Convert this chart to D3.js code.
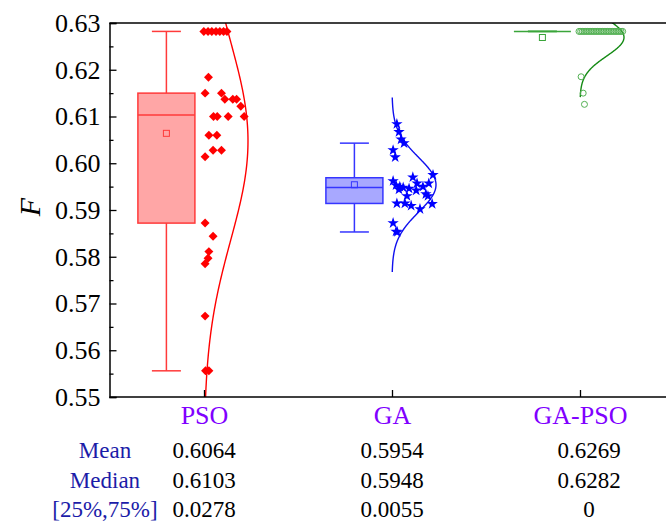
<!DOCTYPE html>
<html>
<head>
<meta charset="utf-8">
<script src="https://cdn.jsdelivr.net/npm/d3@7"></script>
<style>
  html, body { margin: 0; padding: 0; background: #fff; }
  svg { display: block; }
  text { font-family: "Liberation Serif", "DejaVu Serif", serif; }
</style>
</head>
<body>
<svg id="chart" width="666" height="522"></svg>
<script>
// Groups
const categories = ["PSO", "GA", "GA-PSO"];

// Objective value F of each run, with its horizontal jitter (0..1 of the scatter band)
const psoValues = [0.6282, 0.6282, 0.6282, 0.6282, 0.6282, 0.6282, 0.6282,
  0.6184, 0.6150, 0.6150, 0.6137, 0.6137, 0.6137, 0.6122,
  0.6100, 0.6100, 0.6100, 0.6100, 0.6060, 0.6060, 0.6028, 0.6028, 0.6014,
  0.5872, 0.5844, 0.5811, 0.5797, 0.5785, 0.5673, 0.5556, 0.5556];
const psoJitter = [0.02, 0.12, 0.21, 0.31, 0.40, 0.49, 0.57,
  0.13, 0.05, 0.44, 0.52, 0.71, 0.80, 0.90,
  0.25, 0.34, 0.60, 0.98, 0.14, 0.33, 0.24, 0.44, 0.05,
  0.05, 0.24, 0.14, 0.12, 0.05, 0.05, 0.06, 0.14];

const gaValues = [0.6084, 0.6067, 0.6051, 0.6043, 0.6028, 0.6013,
  0.5975, 0.5970, 0.5962, 0.5957, 0.5957, 0.5953, 0.5950, 0.5948, 0.5946,
  0.5950, 0.5942, 0.5944, 0.5934, 0.5930, 0.5930,
  0.5914, 0.5914, 0.5909, 0.5902, 0.5913, 0.5872, 0.5854, 0.5853];
const gaJitter = [0.14, 0.19, 0.24, 0.31, 0.05, 0.10,
  1.00, 0.52, 0.05, 0.62, 0.90, 0.12, 0.21, 0.29, 0.43,
  0.76, 0.60, 0.19, 0.83, 0.88, 0.38,
  0.14, 0.33, 0.48, 0.69, 0.98, 0.05, 0.12, 0.15];

const gapsoValues = [0.6282, 0.6282, 0.6282, 0.6282, 0.6282, 0.6282, 0.6282, 0.6282, 0.6282,
  0.6282, 0.6282, 0.6282, 0.6282, 0.6282, 0.6282, 0.6282, 0.6282, 0.6282,
  0.6282, 0.6282, 0.6282, 0.6282, 0.6282, 0.6282, 0.6282, 0.6282, 0.6282,
  0.6185, 0.6150, 0.6126];
const gapsoJitter = [0.00, 0.04, 0.08, 0.12, 0.16, 0.20, 0.24, 0.28, 0.32,
  0.36, 0.40, 0.44, 0.48, 0.52, 0.56, 0.60, 0.64, 0.68,
  0.72, 0.76, 0.80, 0.84, 0.88, 0.92, 0.96, 1.00, 1.04,
  0.05, 0.10, 0.13];

// Box statistics per group
const whiskerHigh = [0.6282, 0.6043, 0.6282];
const quartile3 = [0.6150, 0.5969, 0.6282];
const medians = [0.6103, 0.5948, 0.6282];
const quartile1 = [0.5872, 0.5914, 0.6282];
const whiskerLow = [0.5556, 0.5853, 0.6282];
const means = [0.6064, 0.5954, 0.6269];

// Axis ticks
const yMajorTicks = [0.55, 0.56, 0.57, 0.58, 0.59, 0.60, 0.61, 0.62, 0.63];
const yMinorTicks = [0.555, 0.565, 0.575, 0.585, 0.595, 0.605, 0.615, 0.625];

const groups = [
  { values: psoValues, jitter: psoJitter },
  { values: gaValues, jitter: gaJitter },
  { values: gapsoValues, jitter: gapsoJitter }
];

const colors = [
  { line: "#ff0000", box: "#ff3a3a", fill: "#ffa6a6", mark: "#ff0000" },
  { line: "#1010ee", box: "#3535ff", fill: "#a8a8ff", mark: "#0000ff" },
  { line: "#148a14", box: "#3aa53a", fill: "#a8d8a8", mark: "#52b052" }
];

const svg = d3.select("#chart");
const plot = { left: 110, top: 23, bottom: 397 };

const x = d3.scaleLinear().domain([0.5, 3.5]).range([110, 674]);
const y = d3.scaleLinear().domain([0.55, 0.63]).range([plot.bottom, plot.top]);

const boxOffset = -0.2;      // box centre relative to the category tick
const boxWidth = 57;
const capWidth = 29;
const bandStart = -1;        // scatter band start (px from tick)
const bandWidth = 42;        // scatter band width (px)
const curvePeak = 44;        // width of the distribution curve at its peak

svg.append("defs").append("clipPath").attr("id", "plotClip")
  .append("rect")
  .attr("x", plot.left).attr("y", plot.top)
  .attr("width", 666 - plot.left).attr("height", plot.bottom - plot.top);

const layer = svg.append("g").attr("clip-path", "url(#plotClip)");

groups.forEach((g, i) => {
  const c = colors[i];
  const cx = x(i + 1 + boxOffset);
  const gLayer = layer.append("g");

  // whiskers
  gLayer.append("line")
    .attr("x1", cx).attr("x2", cx)
    .attr("y1", y(whiskerHigh[i])).attr("y2", y(quartile3[i]))
    .attr("stroke", c.box).attr("stroke-width", 1.5);
  gLayer.append("line")
    .attr("x1", cx).attr("x2", cx)
    .attr("y1", y(quartile1[i])).attr("y2", y(whiskerLow[i]))
    .attr("stroke", c.box).attr("stroke-width", 1.5);
  [whiskerHigh[i], whiskerLow[i]].forEach(v => {
    gLayer.append("line")
      .attr("x1", cx - capWidth / 2).attr("x2", cx + capWidth / 2)
      .attr("y1", y(v)).attr("y2", y(v))
      .attr("stroke", c.box).attr("stroke-width", 1.5);
  });

  // box
  const boxH = y(quartile1[i]) - y(quartile3[i]);
  if (boxH > 0.5) {
    gLayer.append("rect")
      .attr("x", cx - boxWidth / 2).attr("y", y(quartile3[i]))
      .attr("width", boxWidth).attr("height", boxH)
      .attr("fill", c.fill).attr("stroke", c.box).attr("stroke-width", 1.5);
  }
  gLayer.append("line")
    .attr("x1", cx - boxWidth / 2).attr("x2", cx + boxWidth / 2)
    .attr("y1", y(medians[i])).attr("y2", y(medians[i]))
    .attr("stroke", c.box).attr("stroke-width", 1.5);

  // mean marker
  gLayer.append("rect")
    .attr("x", cx - 3).attr("y", y(means[i]) - 3)
    .attr("width", 6).attr("height", 6)
    .attr("fill", "none").attr("stroke", c.box).attr("stroke-width", 1);

  // normal distribution curve from the sample
  const m = d3.mean(g.values);
  const s = d3.deviation(g.values);
  const span = 3.2 * s;
  const samples = d3.range(0, 201).map(k => m - span + (2 * span) * k / 200);
  const base = x(i + 1);
  const line = d3.line()
    .x(v => base + curvePeak * Math.exp(-0.5 * Math.pow((v - m) / s, 2)))
    .y(v => y(v))
    .curve(d3.curveBasis);
  gLayer.append("path")
    .attr("d", line(samples))
    .attr("fill", "none").attr("stroke", c.line).attr("stroke-width", 1.4);

  // data points
  const px = k => base + bandStart + g.jitter[k] * bandWidth;
  const pts = gLayer.append("g");
  if (i === 0) {
    pts.selectAll("path").data(g.values).join("path")
      .attr("d", d3.symbol(d3.symbolSquare, 40)())
      .attr("transform", (v, k) => `translate(${px(k)},${y(v)}) rotate(45)`)
      .attr("fill", c.mark);
  } else if (i === 1) {
    pts.selectAll("path").data(g.values).join("path")
      .attr("d", d3.symbol(d3.symbolStar, 40)())
      .attr("transform", (v, k) => `translate(${px(k)},${y(v)})`)
      .attr("fill", c.mark);
  } else {
    pts.selectAll("circle").data(g.values).join("circle")
      .attr("cx", (v, k) => px(k)).attr("cy", v => y(v)).attr("r", 3)
      .attr("fill", "none").attr("stroke", c.mark).attr("stroke-width", 1);
  }
});

// frame: top border
svg.append("line")
  .attr("x1", plot.left - 0.5).attr("x2", 666)
  .attr("y1", plot.top).attr("y2", plot.top)
  .attr("stroke", "#000").attr("stroke-width", 1.5);

// left axis
const yAxis = svg.append("g").attr("transform", `translate(${plot.left - 0.5},0)`)
  .call(d3.axisLeft(y).tickValues(yMajorTicks).tickSize(-7).tickPadding(9)
    .tickFormat(d3.format(".2f")));
yAxis.select(".domain").attr("stroke-width", 1.5);
yAxis.selectAll(".tick line").attr("stroke-width", 1.3);
yAxis.selectAll("text").attr("font-size", 26).attr("fill", "#000")
  .attr("font-family", "Liberation Serif");
svg.append("g").attr("transform", `translate(${plot.left - 0.5},0)`)
  .call(d3.axisLeft(y).tickValues(yMinorTicks).tickSize(-4).tickFormat(""))
  .call(a => a.select(".domain").remove())
  .selectAll(".tick line").attr("stroke-width", 1.3);

// bottom axis with group names
const xAxis = svg.append("g").attr("transform", `translate(0,${plot.bottom})`)
  .call(d3.axisBottom(x).tickValues([1, 2, 3]).tickSize(-7).tickPadding(9)
    .tickFormat(v => categories[v - 1]));
xAxis.select(".domain").attr("d", `M${plot.left - 0.5},0H666`).attr("stroke-width", 1.5);
xAxis.selectAll(".tick line").attr("stroke-width", 1.3);
xAxis.selectAll("text").attr("font-size", 26).attr("fill", "#8000ff")
  .attr("font-family", "Liberation Serif");

// y axis title
svg.append("text")
  .attr("transform", "translate(40,207) rotate(-90)")
  .attr("text-anchor", "middle")
  .attr("font-size", 30).attr("font-style", "italic")
  .text("F");

// statistics table
const fmt = d3.format(".4f");
const tableRows = [
  { label: "Mean", values: means.map(fmt) },
  { label: "Median", values: medians.map(fmt) },
  { label: "[25%,75%]", values: quartile3.map((q, k) => {
      const r = +(q - quartile1[k]).toFixed(4);
      return r === 0 ? "0" : fmt(r);
    }) }
];
const rowBaselines = [458, 488, 517];
const columnX = [x(1), x(2), x(3) + 9];
tableRows.forEach((row, r) => {
  svg.append("text")
    .attr("x", 105).attr("y", rowBaselines[r])
    .attr("text-anchor", "middle").attr("font-size", 23).attr("fill", "#1c1ca8")
    .text(row.label);
  row.values.forEach((v, k) => {
    svg.append("text")
      .attr("x", columnX[k]).attr("y", rowBaselines[r])
      .attr("text-anchor", "middle").attr("font-size", 23).attr("fill", "#000")
      .text(v);
  });
});
</script>
</body>
</html>
